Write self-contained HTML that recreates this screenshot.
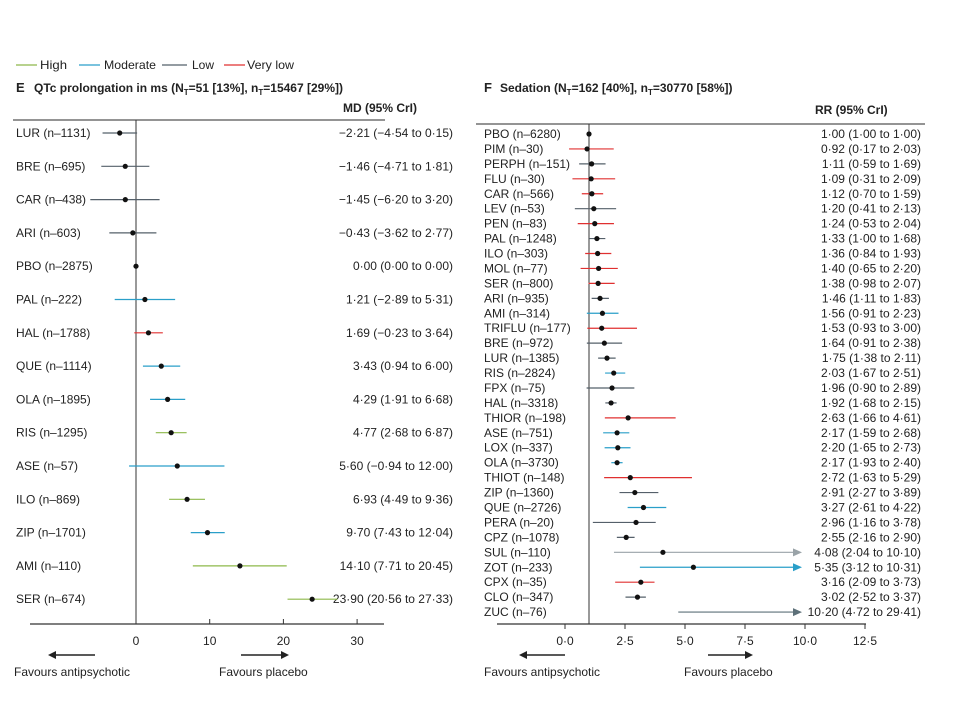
<!DOCTYPE html>
<html><head><meta charset="utf-8"><style>
body{margin:0;background:#fff}
svg{display:block;font-family:"Liberation Sans Narrow","Liberation Sans",sans-serif;font-size:12px;fill:#222}
</style></head><body>
<svg id="s" width="960" height="720" xmlns="http://www.w3.org/2000/svg">
<g stroke-width="1.2">
<line x1="16" y1="65" x2="37" y2="65" stroke="#8db84a"/><text x="40" y="69" textLength="27" lengthAdjust="spacingAndGlyphs">High</text>
<line x1="79" y1="65" x2="100" y2="65" stroke="#2a9fc9"/><text x="104" y="69" textLength="52" lengthAdjust="spacingAndGlyphs">Moderate</text>
<line x1="162" y1="65" x2="187" y2="65" stroke="#55606a"/><text x="192" y="69" textLength="22" lengthAdjust="spacingAndGlyphs">Low</text>
<line x1="224" y1="65" x2="245" y2="65" stroke="#e03030"/><text x="247" y="69" textLength="47" lengthAdjust="spacingAndGlyphs">Very low</text>
</g>
<text x="16" y="92" font-weight="bold" font-size="13">E</text>
<text x="34" y="92" font-weight="bold">QTc prolongation in ms (N<tspan font-size="8" dy="3">T</tspan><tspan dy="-3">=51 [13%], n</tspan><tspan font-size="8" dy="3">T</tspan><tspan dy="-3">=15467 [29%])</tspan></text>
<text x="343" y="112" font-weight="bold">MD (95% CrI)</text>
<text x="484" y="92" font-weight="bold" font-size="13">F</text>
<text x="500" y="92" font-weight="bold">Sedation (N<tspan font-size="8" dy="3">T</tspan><tspan dy="-3">=162 [40%], n</tspan><tspan font-size="8" dy="3">T</tspan><tspan dy="-3">=30770 [58%])</tspan></text>
<text x="815" y="114" font-weight="bold">RR (95% CrI)</text>
<line x1="13" y1="120" x2="385" y2="120" stroke="#555" stroke-width="1.3"/>
<line x1="476" y1="124" x2="925" y2="124" stroke="#555" stroke-width="1.3"/>
<line x1="136" y1="120" x2="136" y2="624" stroke="#333"/>
<line x1="589" y1="124" x2="589" y2="624" stroke="#333"/>
<line x1="30" y1="624" x2="384" y2="624" stroke="#333" stroke-width="1.3"/>
<line x1="497" y1="624" x2="866" y2="624" stroke="#333" stroke-width="1.3"/>
<g id="g"></g>
<g fill="#222">
<line x1="54" y1="655" x2="95" y2="655" stroke="#222" stroke-width="1.5"/><polygon points="48,655 56,651 56,659"/>
<line x1="241" y1="655" x2="282" y2="655" stroke="#222" stroke-width="1.5"/><polygon points="289,655 281,651 281,659"/>
<line x1="526" y1="655" x2="565" y2="655" stroke="#222" stroke-width="1.5"/><polygon points="519,655 527,651 527,659"/>
<line x1="708" y1="655" x2="746" y2="655" stroke="#222" stroke-width="1.5"/><polygon points="753,655 745,651 745,659"/>
</g>
<text x="14" y="676">Favours antipsychotic</text>
<text x="219" y="676">Favours placebo</text>
<text x="484" y="676">Favours antipsychotic</text>
<text x="684" y="676">Favours placebo</text>
</svg>
<script>
const C={h:"#8db84a",m:"#2a9fc9",l:"#55606a",v:"#e03030",n:"#333"};
const g=document.getElementById("g");let h="";
const L=[["LUR (n=1131)",-2.21,-4.54,0.15,"l","−2·21 (−4·54 to 0·15)"],["BRE (n=695)",-1.46,-4.71,1.81,"l","−1·46 (−4·71 to 1·81)"],["CAR (n=438)",-1.45,-6.20,3.20,"l","−1·45 (−6·20 to 3·20)"],["ARI (n=603)",-0.43,-3.62,2.77,"l","−0·43 (−3·62 to 2·77)"],["PBO (n=2875)",0,0,0,"n","0·00 (0·00 to 0·00)"],["PAL (n=222)",1.21,-2.89,5.31,"m","1·21 (−2·89 to 5·31)"],["HAL (n=1788)",1.69,-0.23,3.64,"v","1·69 (−0·23 to 3·64)"],["QUE (n=1114)",3.43,0.94,6.00,"m","3·43 (0·94 to 6·00)"],["OLA (n=1895)",4.29,1.91,6.68,"m","4·29 (1·91 to 6·68)"],["RIS (n=1295)",4.77,2.68,6.87,"h","4·77 (2·68 to 6·87)"],["ASE (n=57)",5.60,-0.94,12.00,"m","5·60 (−0·94 to 12·00)"],["ILO (n=869)",6.93,4.49,9.36,"h","6·93 (4·49 to 9·36)"],["ZIP (n=1701)",9.70,7.43,12.04,"m","9·70 (7·43 to 12·04)"],["AMI (n=110)",14.10,7.71,20.45,"h","14·10 (7·71 to 20·45)"],["SER (n=674)",23.90,20.56,27.33,"h","23·90 (20·56 to 27·33)"]];
L.forEach((r,i)=>{const y=133+i*33.3,X=v=>136+v*7.37;
h+=`<text x="16" y="${y+4}">${r[0].replace('=','–')}</text><text x="453" y="${y+4}" text-anchor="end">${r[5]}</text>`;
if(r[4]!="n")h+=`<line x1="${X(r[2])}" y1="${y}" x2="${X(r[3])}" y2="${y}" stroke="${C[r[4]]}" stroke-width="1.2"/>`;
h+=`<circle cx="${X(r[1])}" cy="${y}" r="2.6" fill="#111"/>`;});
[0,10,20,30].forEach(t=>{const x=136+t*7.37;h+=`<line x1="${x}" y1="619" x2="${x}" y2="624" stroke="#333"/><text x="${x}" y="645" text-anchor="middle">${t}</text>`;});
const R=[["PBO (n=6280)",1,1,1,"n","1·00 (1·00 to 1·00)"],["PIM (n=30)",0.92,0.17,2.03,"v","0·92 (0·17 to 2·03)"],["PERPH (n=151)",1.11,0.59,1.69,"l","1·11 (0·59 to 1·69)"],["FLU (n=30)",1.09,0.31,2.09,"v","1·09 (0·31 to 2·09)"],["CAR (n=566)",1.12,0.70,1.59,"v","1·12 (0·70 to 1·59)"],["LEV (n=53)",1.20,0.41,2.13,"l","1·20 (0·41 to 2·13)"],["PEN (n=83)",1.24,0.53,2.04,"v","1·24 (0·53 to 2·04)"],["PAL (n=1248)",1.33,1.00,1.68,"l","1·33 (1·00 to 1·68)"],["ILO (n=303)",1.36,0.84,1.93,"v","1·36 (0·84 to 1·93)"],["MOL (n=77)",1.40,0.65,2.20,"v","1·40 (0·65 to 2·20)"],["SER (n=800)",1.38,0.98,2.07,"v","1·38 (0·98 to 2·07)"],["ARI (n=935)",1.46,1.11,1.83,"l","1·46 (1·11 to 1·83)"],["AMI (n=314)",1.56,0.91,2.23,"m","1·56 (0·91 to 2·23)"],["TRIFLU (n=177)",1.53,0.93,3.00,"v","1·53 (0·93 to 3·00)"],["BRE (n=972)",1.64,0.91,2.38,"l","1·64 (0·91 to 2·38)"],["LUR (n=1385)",1.75,1.38,2.11,"l","1·75 (1·38 to 2·11)"],["RIS (n=2824)",2.03,1.67,2.51,"m","2·03 (1·67 to 2·51)"],["FPX (n=75)",1.96,0.90,2.89,"l","1·96 (0·90 to 2·89)"],["HAL (n=3318)",1.92,1.68,2.15,"l","1·92 (1·68 to 2·15)"],["THIOR (n=198)",2.63,1.66,4.61,"v","2·63 (1·66 to 4·61)"],["ASE (n=751)",2.17,1.59,2.68,"m","2·17 (1·59 to 2·68)"],["LOX (n=337)",2.20,1.65,2.73,"m","2·20 (1·65 to 2·73)"],["OLA (n=3730)",2.17,1.93,2.40,"m","2·17 (1·93 to 2·40)"],["THIOT (n=148)",2.72,1.63,5.29,"v","2·72 (1·63 to 5·29)"],["ZIP (n=1360)",2.91,2.27,3.89,"l","2·91 (2·27 to 3·89)"],["QUE (n=2726)",3.27,2.61,4.22,"m","3·27 (2·61 to 4·22)"],["PERA (n=20)",2.96,1.16,3.78,"l","2·96 (1·16 to 3·78)"],["CPZ (n=1078)",2.55,2.16,2.90,"l","2·55 (2·16 to 2·90)"],["SUL (n=110)",4.08,2.04,10.10,"g","4·08 (2·04 to 10·10)"],["ZOT (n=233)",5.35,3.12,10.31,"m","5·35 (3·12 to 10·31)"],["CPX (n=35)",3.16,2.09,3.73,"v","3·16 (2·09 to 3·73)"],["CLO (n=347)",3.02,2.52,3.37,"l","3·02 (2·52 to 3·37)"],["ZUC (n=76)",null,4.72,10.2,"z","10·20 (4·72 to 29·41)"]];
C.g="#9aa3a8";C.z="#5d7079";
R.forEach((r,i)=>{const y=134+i*14.94,X=v=>565+v*24;
h+=`<text x="484" y="${y+4}">${r[0].replace('=','–')}</text><text x="921" y="${y+4}" text-anchor="end">${r[5]}</text>`;
if(r[4]!="n"){let x2=X(r[3]);const arr=r[3]>8;if(arr)x2=794;
h+=`<line x1="${X(r[2])}" y1="${y}" x2="${x2}" y2="${y}" stroke="${C[r[4]]}" stroke-width="1.2"/>`;
if(arr)h+=`<polygon points="802,${y} 793,${y-4} 793,${y+4}" fill="${C[r[4]]}"/>`;}
if(r[1]!==null)h+=`<circle cx="${X(r[1])}" cy="${y}" r="2.6" fill="#111"/>`;});
["0·0","2·5","5·0","7·5","10·0","12·5"].forEach((t,i)=>{const x=565+i*60;h+=`<line x1="${x}" y1="624" x2="${x}" y2="629" stroke="#333"/><text x="${x}" y="645" text-anchor="middle">${t}</text>`;});
g.innerHTML=h;
</script>
</body></html>
